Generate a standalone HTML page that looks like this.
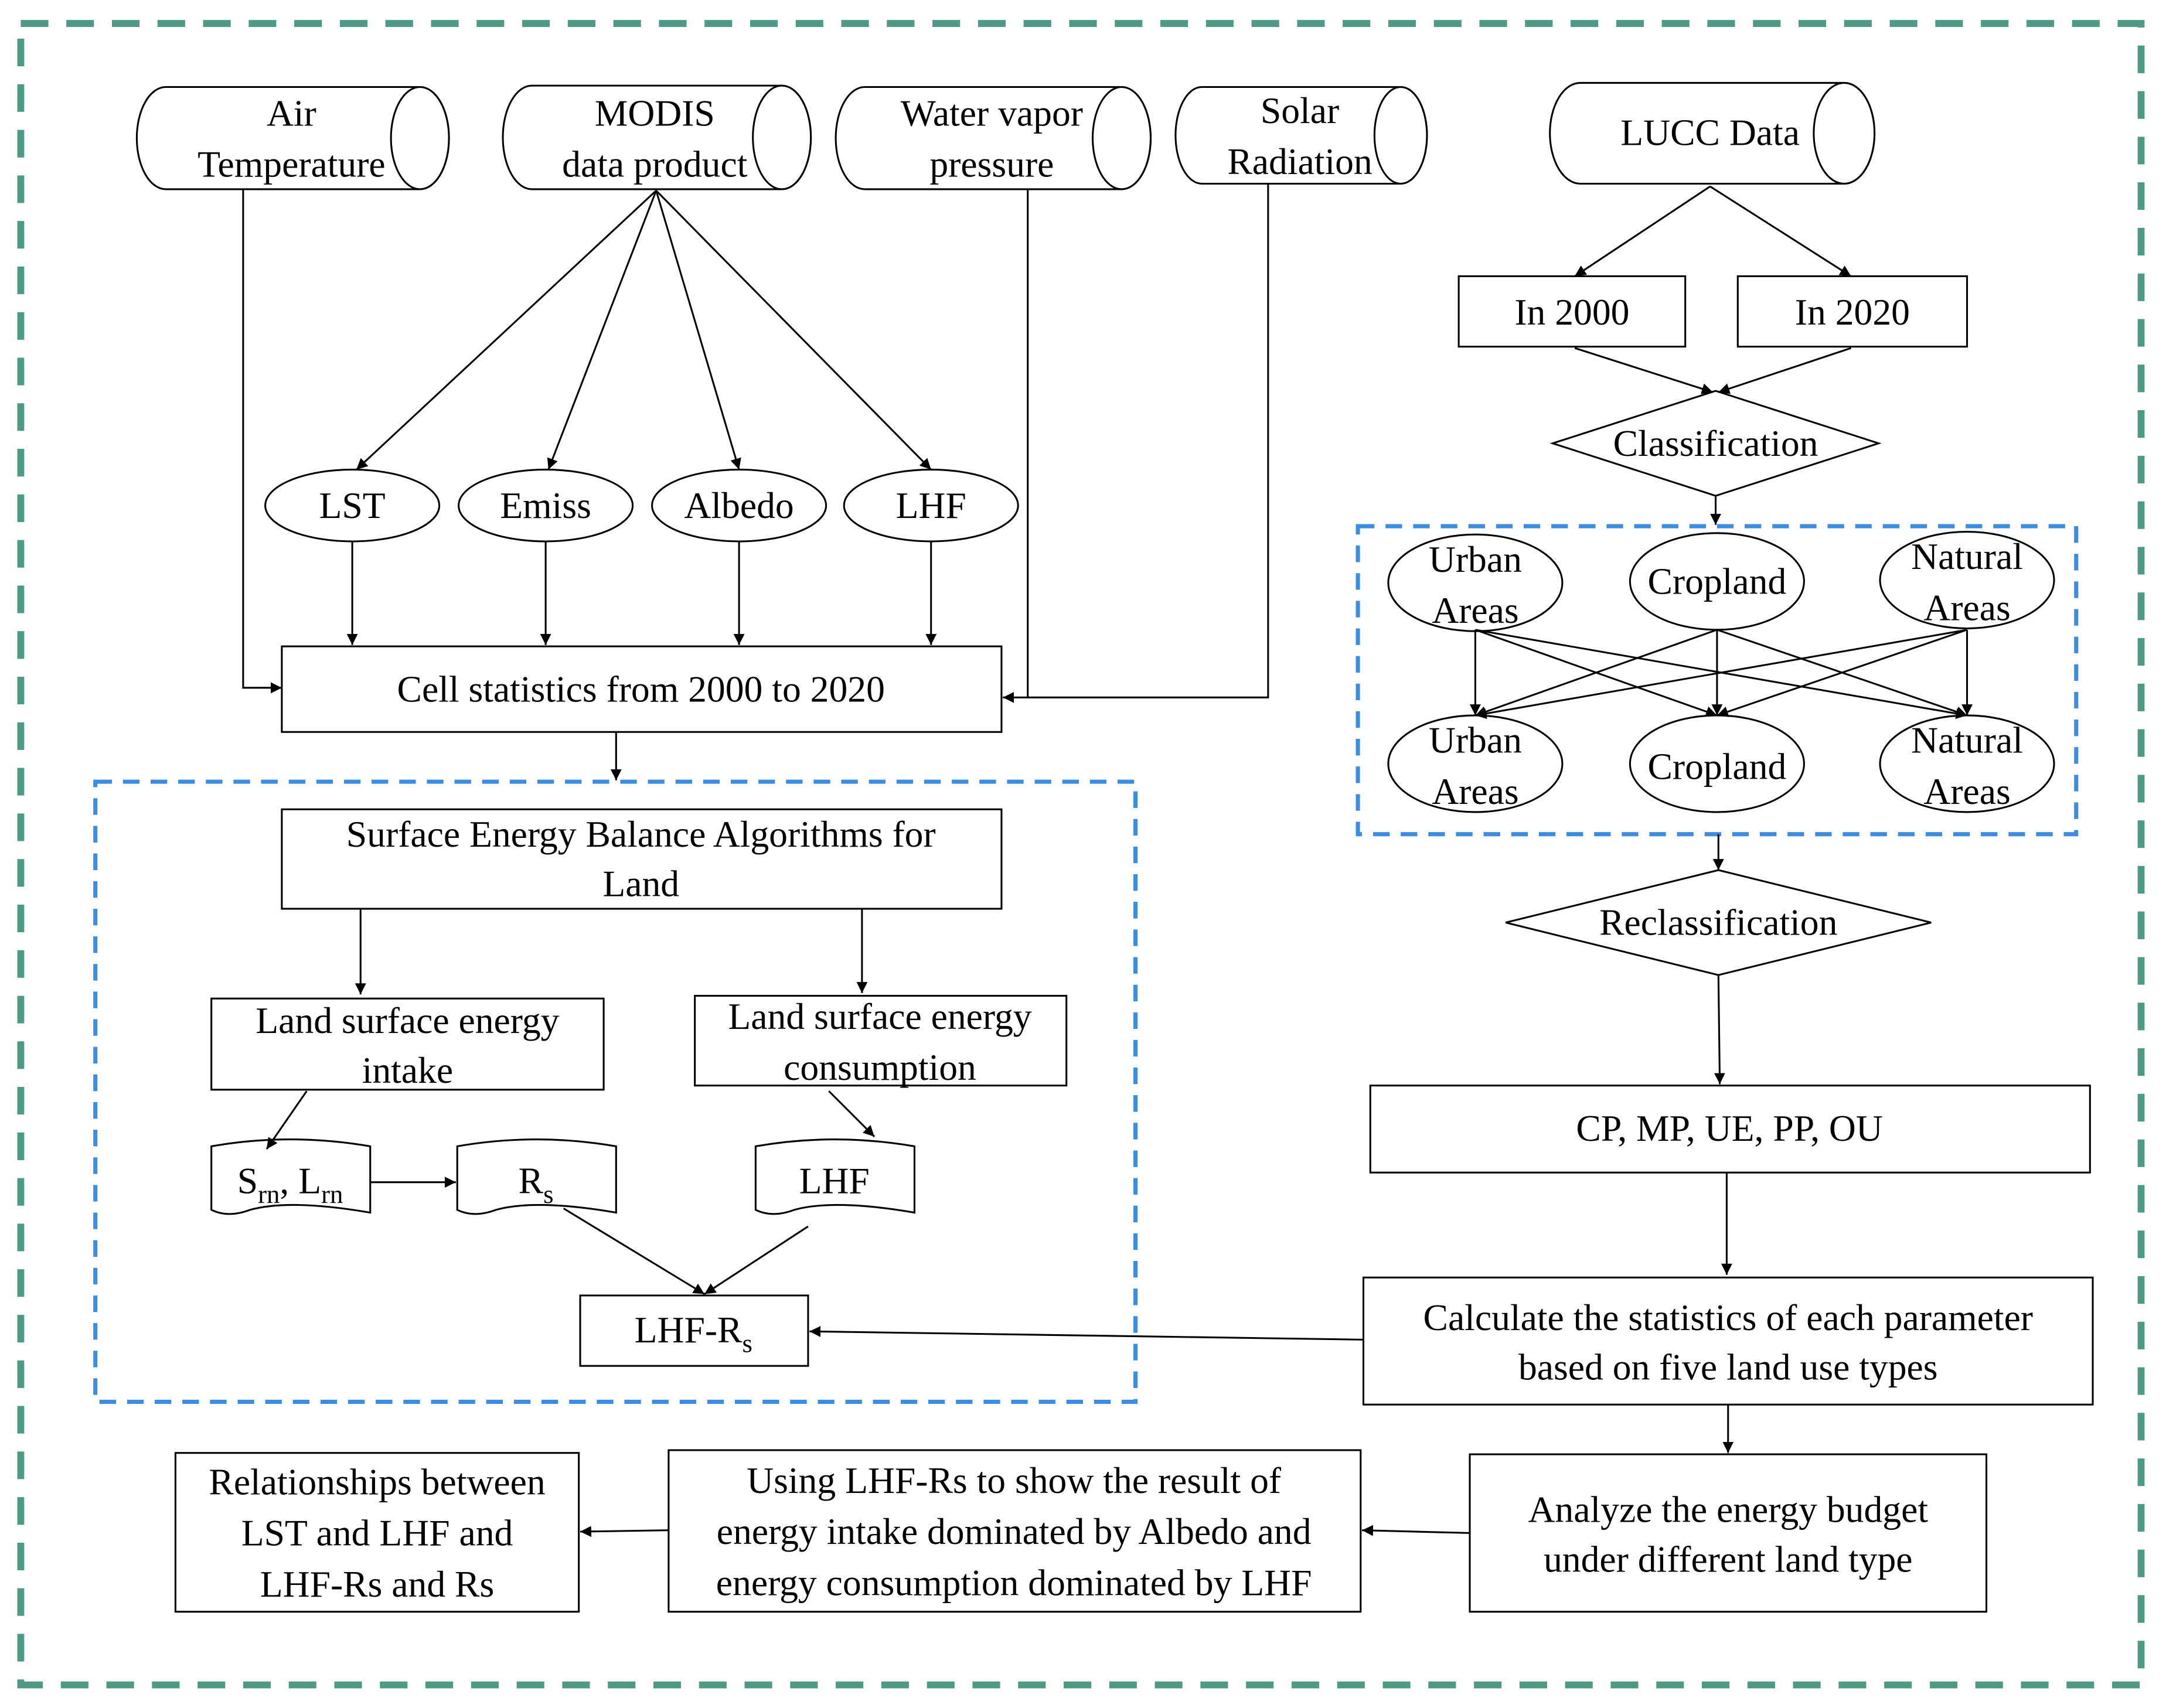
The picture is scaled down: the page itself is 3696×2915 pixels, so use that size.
<!DOCTYPE html>
<html><head><meta charset="utf-8"><style>html,body{margin:0;padding:0;background:#fff}svg{display:block}</style></head><body>
<svg width="3696" height="2915" viewBox="0 0 1568 1236.7" xmlns="http://www.w3.org/2000/svg" font-family="'Liberation Serif',serif" font-size="27" fill="none" stroke="#000" stroke-width="1.3">
<defs><marker id="a" viewBox="0 0 10 10" refX="10" refY="5" markerWidth="8" markerHeight="8" orient="auto" markerUnits="userSpaceOnUse"><path d="M0,0 L10,5 L0,10 z" fill="#000" stroke="none"/></marker></defs>
<rect x="15" y="17" width="1535" height="1203" stroke="#4f9a87" stroke-width="5" stroke-dasharray="20 13"/>
<rect x="69" y="566" width="753" height="449" stroke="#3a8de0" stroke-width="3" stroke-dasharray="12 8"/>
<rect x="983" y="381" width="520" height="223" stroke="#3a8de0" stroke-width="3" stroke-dasharray="12 8"/>
<g fill="#fff">
<path d="M120,63 H304 A21,37 0 0 1 304,137 H120 A21,37 0 0 1 120,63 Z"/><ellipse cx="304" cy="100" rx="21" ry="37"/>
<path d="M385,62 H566 A21,37.5 0 0 1 566,137 H385 A21,37.5 0 0 1 385,62 Z"/><ellipse cx="566" cy="99.5" rx="21" ry="37.5"/>
<path d="M626,63 H812 A21,37 0 0 1 812,137 H626 A21,37 0 0 1 626,63 Z"/><ellipse cx="812" cy="100" rx="21" ry="37"/>
<path d="M870,63 H1014 A19,35 0 0 1 1014,133 H870 A19,35 0 0 1 870,63 Z"/><ellipse cx="1014" cy="98" rx="19" ry="35"/>
<path d="M1144,60 H1335 A22,36.5 0 0 1 1335,133 H1144 A22,36.5 0 0 1 1144,60 Z"/><ellipse cx="1335" cy="96.5" rx="22" ry="36.5"/>
</g>
<g fill="#000" stroke="none" text-anchor="middle">
<text x="211" y="91">Air</text><text x="211" y="128">Temperature</text>
<text x="474" y="91">MODIS</text><text x="474" y="128">data product</text>
<text x="718" y="91">Water vapor</text><text x="718" y="128">pressure</text>
<text x="941" y="89">Solar</text><text x="941" y="126">Radiation</text>
<text x="1238" y="105">LUCC Data</text>
</g>
<g>
<ellipse cx="255" cy="366" rx="63" ry="26"/><ellipse cx="395" cy="366" rx="63" ry="26"/><ellipse cx="535" cy="366" rx="63" ry="26"/><ellipse cx="674" cy="366" rx="63" ry="26"/>
<rect x="204" y="468" width="521" height="62"/>
<rect x="204" y="586" width="521" height="72"/>
<rect x="153" y="723" width="284" height="66"/>
<rect x="503" y="721" width="269" height="65"/>
<path d="M153,830 Q210,820 268,830 V878 Q210,868 181,876 Q165,882 153,876 Z"/>
<path d="M331,830 Q388,820 446,830 V878 Q388,868 359,876 Q343,882 331,876 Z"/>
<path d="M547,830 Q604,820 662,830 V878 Q604,868 575,876 Q559,882 547,876 Z"/>
<rect x="420" y="938" width="165" height="51"/>
<rect x="1056" y="200" width="164" height="51"/><rect x="1258" y="200" width="166" height="51"/>
<path d="M1124,321 L1242,283 L1360,321 L1242,359 Z"/>
<ellipse cx="1068" cy="422" rx="63" ry="35"/><ellipse cx="1243" cy="421" rx="63" ry="35"/><ellipse cx="1424" cy="420" rx="63" ry="35"/>
<ellipse cx="1068" cy="553" rx="63" ry="35"/><ellipse cx="1243" cy="553" rx="63" ry="35"/><ellipse cx="1424" cy="553" rx="63" ry="35"/>
<path d="M1090,668 L1244,630 L1398,668 L1244,706 Z"/>
<rect x="992" y="786" width="521" height="63"/>
<rect x="987" y="925" width="528" height="92"/>
<rect x="1064" y="1053" width="374" height="114"/>
<rect x="484" y="1050" width="501" height="117"/>
<rect x="127" y="1052" width="292" height="115"/>
</g>
<g marker-end="url(#a)">
<path d="M475,138 L258,340"/><path d="M475,138 L397,340"/><path d="M475,138 L535,340"/><path d="M475,138 L674,340"/>
<path d="M255,392 V467"/><path d="M395,392 V467"/><path d="M535,392 V467"/><path d="M674,392 V467"/>
<path d="M176,137 V498 H204"/>
<path d="M744,137 V505 H726"/>
<path d="M918,133 V505 H744" marker-end="none"/>
<path d="M446,530 V565"/>
<path d="M261,658 V720"/><path d="M624,658 V719"/>
<path d="M222,790 L193,832"/><path d="M600,790 L633,823"/>
<path d="M268,856 H330"/>
<path d="M408,875 L510,937"/><path d="M585,888 L510,937"/>
<path d="M1238,135 L1140,200"/><path d="M1238,135 L1340,200"/>
<path d="M1140,252 L1240,284"/><path d="M1340,252 L1244,284"/>
<path d="M1242,359 V380"/>
<path d="M1068,456 V518"/><path d="M1068,456 L1243,518"/><path d="M1068,456 L1424,518"/>
<path d="M1243,456 L1068,518"/><path d="M1243,456 V518"/><path d="M1243,456 L1424,518"/>
<path d="M1424,456 L1068,518"/><path d="M1424,456 L1243,518"/><path d="M1424,456 V518"/>
<path d="M1244,604 V630"/>
<path d="M1244,706 L1245,785"/>
<path d="M1250,849 V923"/>
<path d="M987,970 L586,964"/>
<path d="M1251,1017 V1052"/>
<path d="M1064,1110 L986,1108"/>
<path d="M484,1108 L420,1109"/>
</g>
<g fill="#000" stroke="none" text-anchor="middle">
<text x="255" y="375">LST</text><text x="395" y="375">Emiss</text><text x="535" y="375">Albedo</text><text x="674" y="375">LHF</text>
<text x="464" y="508">Cell statistics from 2000 to 2020</text>
<text x="464" y="613">Surface Energy Balance Algorithms for</text><text x="464" y="649">Land</text>
<text x="295" y="748">Land surface energy</text><text x="295" y="784">intake</text>
<text x="637" y="745">Land surface energy</text><text x="637" y="782">consumption</text>
<text x="210" y="864">S<tspan font-size="19" dy="7">rn</tspan><tspan dy="-7">, L</tspan><tspan font-size="19" dy="7">rn</tspan></text>
<text x="388" y="864">R<tspan font-size="19" dy="7">s</tspan></text>
<text x="604" y="864">LHF</text>
<text x="502" y="972">LHF-R<tspan font-size="19" dy="7">s</tspan></text>
<text x="1138" y="235">In 2000</text><text x="1341" y="235">In 2020</text>
<text x="1242" y="330">Classification</text>
<text x="1068" y="414">Urban</text><text x="1068" y="451">Areas</text>
<text x="1243" y="430">Cropland</text>
<text x="1424" y="412">Natural</text><text x="1424" y="449">Areas</text>
<text x="1068" y="545">Urban</text><text x="1068" y="582">Areas</text>
<text x="1243" y="564">Cropland</text>
<text x="1424" y="545">Natural</text><text x="1424" y="582">Areas</text>
<text x="1244" y="677">Reclassification</text>
<text x="1252" y="826">CP, MP, UE, PP, OU</text>
<text x="1251" y="963">Calculate the statistics of each parameter</text><text x="1251" y="999">based on five land use types</text>
<text x="1251" y="1102">Analyze the energy budget</text><text x="1251" y="1138">under different land type</text>
<text x="734" y="1081">Using LHF-Rs to show the result of</text><text x="734" y="1118">energy intake dominated by Albedo and</text><text x="734" y="1155">energy consumption dominated by LHF</text>
<text x="273" y="1082">Relationships between</text><text x="273" y="1119">LST and LHF and</text><text x="273" y="1156">LHF-Rs and Rs</text>
</g>
</svg>
</body></html>
